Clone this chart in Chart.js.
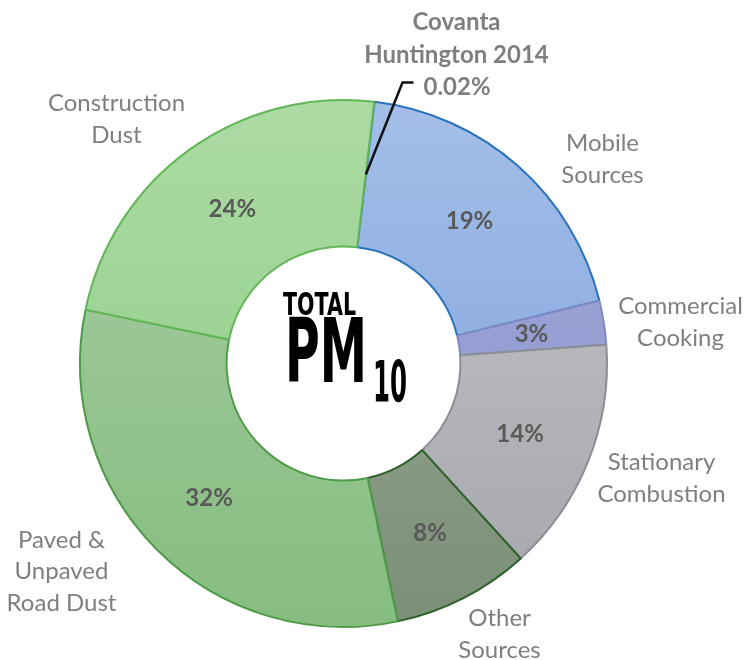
<!DOCTYPE html>
<html>
<head>
<meta charset="utf-8">
<script src="https://cdn.jsdelivr.net/npm/chart.js@4.4.0/dist/chart.umd.min.js"></script>
<style>
  html, body { margin: 0; padding: 0; background: #fff; }
  #wrap { width: 750px; height: 660px; }
</style>
</head>
<body>
<div id="wrap"><canvas id="pm10"></canvas></div>
<script>
// sources, clockwise from the top
const categories = [
  "Covanta Huntington 2014",
  "Mobile Sources",
  "Commercial Cooking",
  "Stationary Combustion",
  "Other Sources",
  "Paved & Unpaved Road Dust",
  "Construction Dust",
];
// share of total PM10, percent
const shares = [0.02, 19.3, 2.7, 14.4, 8.45, 31.6, 23.6];
// how the category names are broken on the picture
const nameLines = [
  ["Covanta", "Huntington 2014"],
  ["Mobile", "Sources"],
  ["Commercial", "Cooking"],
  ["Stationary", "Combustion"],
  ["Other", "Sources"],
  ["Paved &", "Unpaved", "Road Dust"],
  ["Construction", "Dust"],
];

const fillTop = ["#2f7cc2", "#a3bfe9", "#a4aadb", "#c6c7cb", "#a0ad9c", "#a8cda3", "#acdba4"];
const fillBottom = ["#2f7cc2", "#7b9ed9", "#8690c9", "#a5a6ab", "#7b8f77", "#86bd80", "#8bca83"];
const edgeColors = ["#2a72b8", "#2a72b8", "#7f89c4", "#8d8e93", "#2f5f2b", "#4f9c48", "#62b657"];

// name label spots, offset from the ring centre
const nameSpots = [
  [113, -325], [259, -204], [337, -41], [318, 115], [156, 271], [-282, 208], [-227, -244],
];

function shade(c) {
  const chart = c.chart;
  const area = chart.chartArea;
  if (!area) return fillBottom[c.dataIndex];
  const g = chart.ctx.createLinearGradient(0, area.top, 0, area.bottom);
  g.addColorStop(0, fillTop[c.dataIndex]);
  g.addColorStop(1, fillBottom[c.dataIndex]);
  return g;
}

function fmtShare(v) {
  return v < 1 ? v.toFixed(2) + "%" : Math.round(v) + "%";
}

// fit a string into a box: cap height sets the size, width sets the squeeze
function squeezed(ctx, text, left, baseline, capH, width) {
  const size = capH / 0.729;
  ctx.font = "bold " + size + "px 'DejaVu Sans'";
  const w = ctx.measureText(text).width;
  ctx.save();
  ctx.translate(left, baseline);
  ctx.scale(width / w, 1);
  ctx.textAlign = "left";
  ctx.textBaseline = "alphabetic";
  ctx.fillText(text, 0, 0);
  ctx.restore();
}

const ringLabels = {
  id: "ringLabels",
  afterDatasetsDraw(chart) {
    const ctx = chart.ctx;
    const meta = chart.getDatasetMeta(0);
    const arc0 = meta.data[0];
    const cx = arc0.x;
    const cy = arc0.y;
    ctx.save();

    // percentages inside the ring
    ctx.fillStyle = "#595959";
    ctx.font = "bold 24px Lato";
    ctx.textAlign = "center";
    ctx.textBaseline = "middle";
    meta.data.forEach((arc, i) => {
      if (i === 0) return;
      const p = arc.tooltipPosition();
      ctx.fillText(fmtShare(shares[i]), p.x, p.y);
    });

    // category names round the ring
    ctx.fillStyle = "#7f7f7f";
    ctx.font = "24px Lato";
    nameLines.forEach((lines, i) => {
      if (i === 0) return;
      const [dx, dy] = nameSpots[i];
      const lh = 31.5;
      const top = cy + dy - (lines.length - 1) * lh / 2;
      lines.forEach((s, k) => ctx.fillText(s, cx + dx, top + k * lh));
    });

    // Covanta callout
    ctx.font = "bold 24px Lato";
    const [dx0, dy0] = nameSpots[0];
    ctx.fillText(nameLines[0][0], cx + dx0, cy + dy0 - 16.5);
    ctx.fillText(nameLines[0][1], cx + dx0, cy + dy0 + 16.5);
    const p = arc0.tooltipPosition();
    ctx.strokeStyle = "#111";
    ctx.lineWidth = 2.5;
    ctx.beginPath();
    ctx.moveTo(p.x, p.y);
    ctx.lineTo(cx + 59, cy - 281);
    ctx.lineTo(cx + 70, cy - 281);
    ctx.stroke();
    ctx.textAlign = "left";
    ctx.fillText(fmtShare(shares[0]), cx + 80, cy - 276);

    // centre title
    ctx.fillStyle = "#000";
    squeezed(ctx, "TOTAL", cx - 60.5, cy - 48.5, 23, 73);
    squeezed(ctx, "PM", cx - 58.5, cy + 18.5, 65, 82);
    squeezed(ctx, "10", cx + 29.5, cy + 38.5, 42, 34);
    ctx.restore();
  },
};

new Chart(document.getElementById("pm10"), {
  type: "doughnut",
  plugins: [ringLabels],
  data: {
    labels: categories,
    datasets: [
      {
        data: shares,
        backgroundColor: shade,
        borderColor: edgeColors,
        borderWidth: 2,
      },
    ],
  },
  options: {
    responsive: true,
    maintainAspectRatio: false,
    animation: false,
    rotation: 6.7,
    cutout: "44.4%",
    layout: {
      padding: { left: 79, right: 142, top: 99, bottom: 32 },
    },
    plugins: {
      legend: { display: false },
      tooltip: { enabled: false },
    },
  },
});
</script>
</body>
</html>
